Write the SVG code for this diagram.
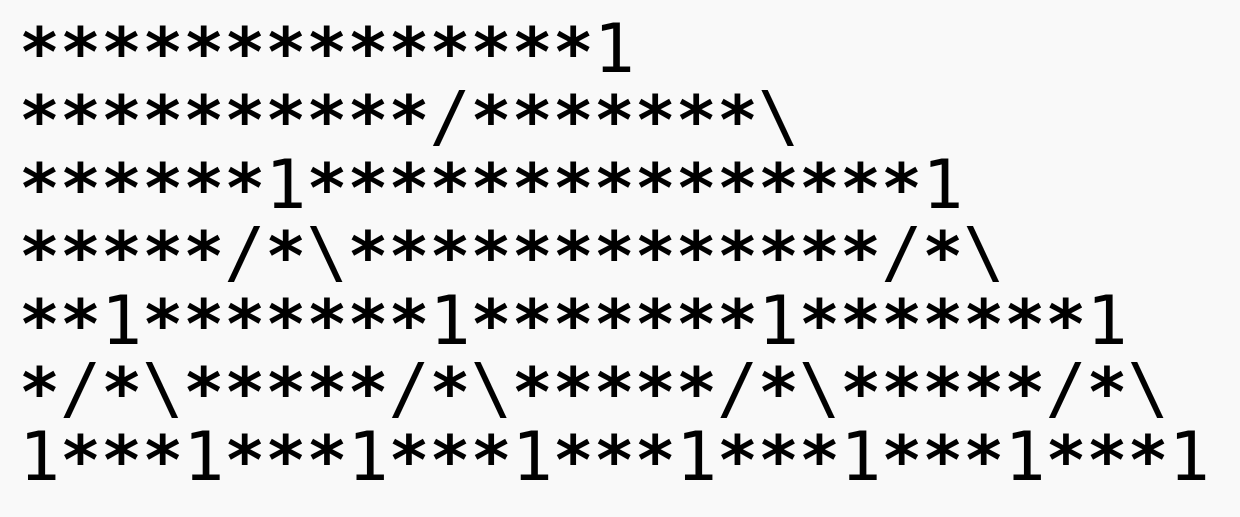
<svg xmlns="http://www.w3.org/2000/svg" width="1240" height="517" viewBox="0 0 1240 517">
<style>
.t{font-family:"DejaVu Sans Mono","Liberation Mono",monospace;font-size:68.2px;fill:#000;white-space:pre}
.a{font-weight:bold;baseline-shift:-4px}
</style>
<rect width="1240" height="517" fill="#f9f9f9"/>
<g id="art">
<text class="t" x="19" y="72"><tspan class="a">**************</tspan>1</text>
<text class="t" x="19" y="140"><tspan class="a">**********</tspan>/<tspan class="a">*******</tspan>\</text>
<text class="t" x="19" y="208"><tspan class="a">******</tspan>1<tspan class="a">***************</tspan>1</text>
<text class="t" x="19" y="276"><tspan class="a">*****</tspan>/<tspan class="a">*</tspan>\<tspan class="a">*************</tspan>/<tspan class="a">*</tspan>\</text>
<text class="t" x="19" y="344"><tspan class="a">**</tspan>1<tspan class="a">*******</tspan>1<tspan class="a">*******</tspan>1<tspan class="a">*******</tspan>1</text>
<text class="t" x="19" y="412"><tspan class="a">*</tspan>/<tspan class="a">*</tspan>\<tspan class="a">*****</tspan>/<tspan class="a">*</tspan>\<tspan class="a">*****</tspan>/<tspan class="a">*</tspan>\<tspan class="a">*****</tspan>/<tspan class="a">*</tspan>\</text>
<text class="t" x="19" y="480">1<tspan class="a">***</tspan>1<tspan class="a">***</tspan>1<tspan class="a">***</tspan>1<tspan class="a">***</tspan>1<tspan class="a">***</tspan>1<tspan class="a">***</tspan>1<tspan class="a">***</tspan>1</text>
</g>
</svg>
